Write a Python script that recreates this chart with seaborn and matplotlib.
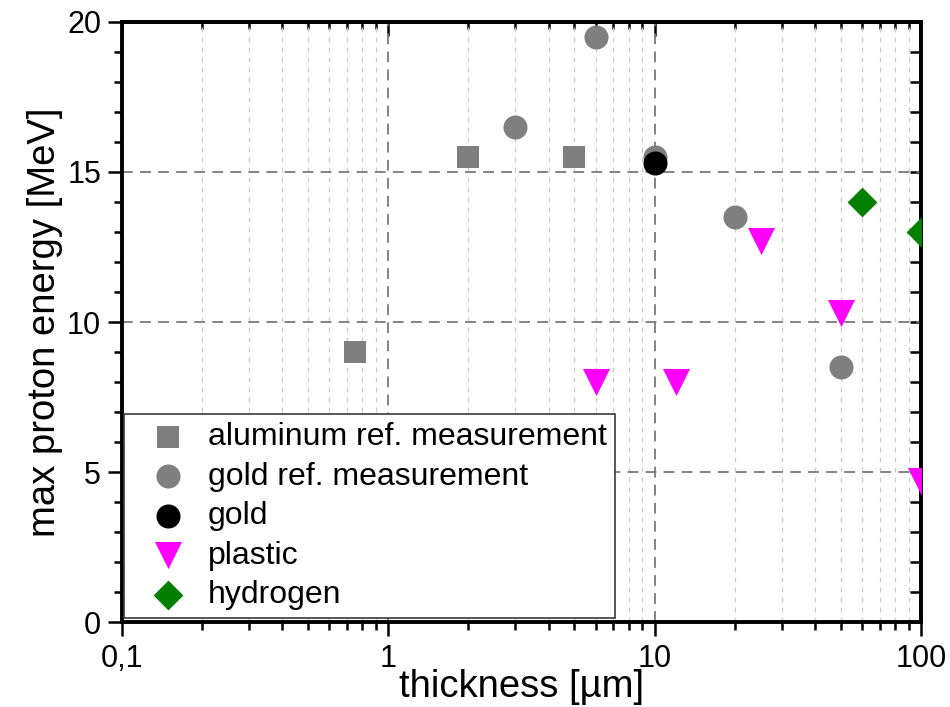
import matplotlib
matplotlib.use("Agg")
import matplotlib.pyplot as plt
import matplotlib.ticker as mticker
import seaborn as sns
import pandas as pd

# values
al_thickness = [0.75, 2, 5]
al_energy = [9.0, 15.5, 15.5]

au_ref_thickness = [3, 6, 10, 20, 50]
au_ref_energy = [16.5, 19.5, 15.5, 13.5, 8.5]

au_thickness = [10]
au_energy = [15.3]

plastic_thickness = [6, 12, 25, 50, 100]
plastic_energy = [8.0, 8.0, 12.7, 10.3, 4.7]

hydrogen_thickness = [60, 100]
hydrogen_energy = [14.0, 13.0]

x_ticks = [0.1, 1, 10, 100]
x_tick_labels = ["0,1", "1", "10", "100"]
y_ticks = [0, 5, 10, 15, 20]

series = [
    ("aluminum ref. measurement", al_thickness, al_energy, "s", "#7f7f7f", 230),
    ("gold ref. measurement", au_ref_thickness, au_ref_energy, "o", "#7f7f7f", 300),
    ("gold", au_thickness, au_energy, "o", "black", 300),
    ("plastic", plastic_thickness, plastic_energy, "v", "#ff00ff", 380),
    ("hydrogen", hydrogen_thickness, hydrogen_energy, "D", "#007f00", 230),
]

sns.set_style("ticks")
plt.rcParams["font.family"] = ["Liberation Sans", "DejaVu Sans"]
plt.rcParams["text.color"] = "black"
plt.rcParams["axes.labelcolor"] = "black"
plt.rcParams["xtick.color"] = "black"
plt.rcParams["ytick.color"] = "black"

fig = plt.figure(figsize=(9.5, 7.07), dpi=100)
ax = fig.add_axes([0.1284, 0.1202, 0.841, 0.8487])

for label, xs, ys, marker, color, size in series:
    df = pd.DataFrame({"thickness": xs, "energy": ys})
    sns.scatterplot(data=df, x="thickness", y="energy", ax=ax, marker=marker,
                    color=color, s=size, linewidth=0, label=label, zorder=3)

ax.set_xscale("log")
ax.set_xlim(0.1, 100)
ax.set_ylim(0, 20)
ax.xaxis.set_major_locator(mticker.FixedLocator(x_ticks))
ax.xaxis.set_major_formatter(mticker.FixedFormatter(x_tick_labels))
ax.xaxis.set_minor_locator(mticker.LogLocator(base=10, subs=range(2, 10)))
ax.xaxis.set_minor_formatter(mticker.NullFormatter())
ax.yaxis.set_major_locator(mticker.FixedLocator(y_ticks))
ax.yaxis.set_minor_locator(mticker.MultipleLocator(1))

ax.grid(True, which="major", axis="x", color="#7a7a7a", linestyle=(0, (6, 4)), linewidth=1.3)
ax.grid(True, which="minor", axis="x", color="#cccccc", linestyle=(0, (4, 4)), linewidth=0.9)
ax.grid(True, which="major", axis="y", color="#7a7a7a", linestyle=(0, (6, 4)), linewidth=1.3)
ax.set_axisbelow(True)

for sp in ax.spines.values():
    sp.set_linewidth(2.8)
    sp.set_color("black")

# left / bottom ticks point out, top / right ticks point in
ax.tick_params(which="both", direction="out", width=1.8, labelsize=22)
ax.tick_params(which="major", length=10)
ax.tick_params(which="minor", length=6)
ax.tick_params(axis="y", pad=5)
ax.tick_params(axis="x", pad=6)

top = ax.secondary_xaxis("top")
top.xaxis.set_major_locator(mticker.FixedLocator(x_ticks))
top.xaxis.set_minor_locator(mticker.LogLocator(base=10, subs=range(2, 10)))
top.xaxis.set_major_formatter(mticker.NullFormatter())
top.xaxis.set_minor_formatter(mticker.NullFormatter())
top.tick_params(which="both", direction="in", width=1.8)
top.tick_params(which="major", length=10)
top.tick_params(which="minor", length=5)
top.spines["top"].set_linewidth(2.8)

right = ax.secondary_yaxis("right")
right.yaxis.set_major_locator(mticker.FixedLocator(y_ticks))
right.yaxis.set_minor_locator(mticker.MultipleLocator(1))
right.yaxis.set_major_formatter(mticker.NullFormatter())
right.tick_params(which="both", direction="in", width=1.8, length=8)
right.spines["right"].set_linewidth(2.8)

ax.set_xlabel("thickness [µm]", fontsize=27.5, labelpad=-4)
ax.set_ylabel("max proton energy [MeV]", fontsize=27.5, labelpad=3)

leg = ax.legend(loc="lower left", bbox_to_anchor=(0.003, 0.006), fontsize=23,
                frameon=True, fancybox=False, framealpha=1, edgecolor="#3a3a3a",
                borderaxespad=0, borderpad=0.25, handlelength=2.2,
                handletextpad=0.17, labelspacing=0.3)
leg.get_frame().set_linewidth(1.2)

fig.savefig("out.png", dpi=100)
